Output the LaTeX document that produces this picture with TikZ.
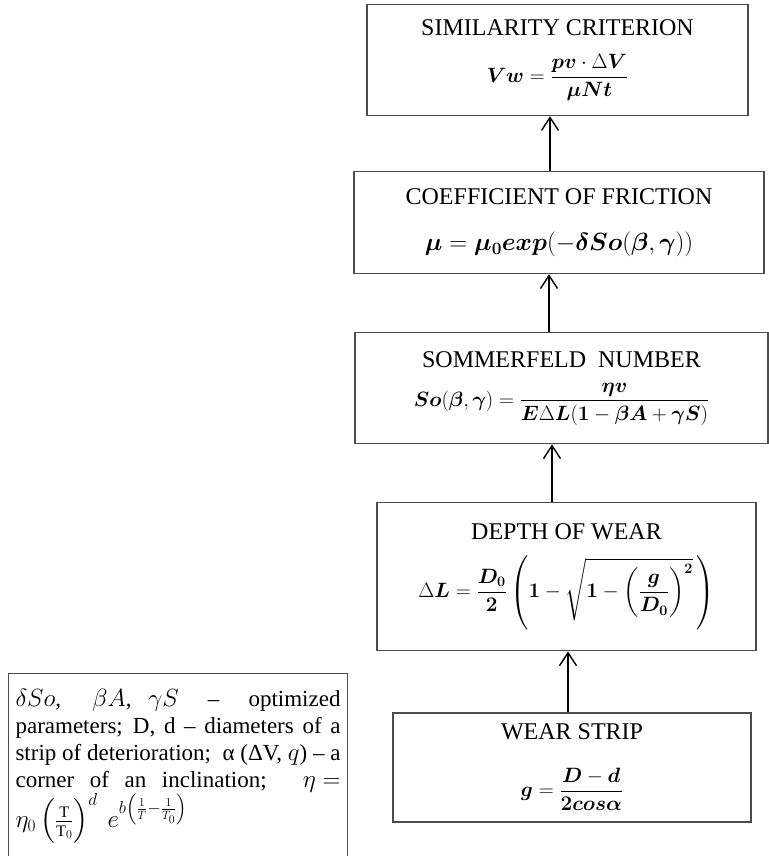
\documentclass[tikz,border=0pt]{standalone}
\usepackage{amsmath,bm}
\usepackage{fontspec}
\setmainfont{Liberation Serif}
\usepackage{tikz}
\usetikzlibrary{arrows.meta,positioning}
\newcommand{\stagetitle}[1]{{\fontsize{24}{28}\selectfont #1}}

\begin{document}
\begin{tikzpicture}[x=1pt, y=1pt, node distance=58pt, every node/.style={font=\fontsize{21}{24}\selectfont}]
\tikzstyle{stage}=[draw=black!70, line width=1.1pt, align=center, inner sep=2pt]
\tikzstyle{notebox}=[draw=black!70, line width=1.1pt, text width=325pt, align=justify, inner xsep=7pt, inner ysep=8pt, font=\fontsize{23}{27}\selectfont]
\tikzstyle{flowarrow}=[-{Straight Barb[length=13pt,width=17pt]}, line width=1.4pt]
\useasboundingbox (0,0) rectangle (768,856);
\node[stage, minimum width=358pt, minimum height=109pt] (wear) at (572,88.5)
  {\stagetitle{WEAR STRIP}\\[27pt]$\bm{g}=\dfrac{\bm{D}-\bm{d}}{\bm{2cos\alpha}}$};
\node[stage, minimum width=379pt, minimum height=148pt, above=61pt of wear, xshift=-5.5pt] (depth)
  {\stagetitle{DEPTH OF WEAR}\\[14pt]$\Delta\bm{L}=\dfrac{\bm{D_0}}{\bm{2}}\left(\bm{1}-\sqrt{\bm{1}-\left(\dfrac{\bm{g}}{\bm{D_0}}\right)^{\bm{2}}}\,\right)$};
\node[stage, minimum width=413pt, minimum height=111pt, above=of depth, xshift=-5pt] (sommer)
  {\stagetitle{SOMMERFELD\ \ NUMBER}\\[15pt]{\fontsize{22}{24}\selectfont$\bm{So}(\bm{\beta},\bm{\gamma})=\dfrac{\bm{\eta v}}{\bm{E}\Delta\bm{L}(\bm{1}-\bm{\beta A}+\bm{\gamma S})}$}};
\node[stage, minimum width=410pt, minimum height=102pt, above=of sommer, xshift=-2.5pt] (friction)
  {\stagetitle{COEFFICIENT OF FRICTION}\\[22pt]{\fontsize{24}{24}\selectfont$\bm{\mu}=\bm{\mu_0exp}(-\bm{\delta So}(\bm{\beta},\bm{\gamma}))$}};
\node[stage, minimum width=381pt, minimum height=111pt, above=55pt of friction, xshift=-1.5pt] (crit)
  {\stagetitle{SIMILARITY CRITERION}\\[17pt]$\bm{Vw}=\dfrac{\bm{pv}\cdot\Delta\bm{V}}{\bm{\mu Nt}}$};
\node[notebox, anchor=north west, minimum height=186pt] (note) at (8,183)
  {$\delta So$, \ $\beta A$, $\gamma S$ \ -- \ optimized\linebreak
   parameters; D, d -- diameters of a\linebreak
   strip of deterioration; \ α (ΔV, $q$) -- a\linebreak
   corner of an inclination; \ $\eta\mkern5mu{=}$\linebreak
   \rule{0pt}{31pt}$\eta_0\left(\frac{\mathrm{T}}{\mathrm{T}_0}\right)^{d}\ e^{b\left(\frac{1}{T}-\frac{1}{T_0}\right)}$\par};
\draw[flowarrow] ([xshift=-4pt]wear.north) -- ([xshift=-4pt]wear.north |- depth.south);
\draw[flowarrow] ([xshift=-14.5pt]depth.north) -- ([xshift=-14.5pt]depth.north |- sommer.south);
\draw[flowarrow] ([xshift=-12.5pt]sommer.north) -- ([xshift=-12.5pt]sommer.north |- friction.south);
\draw[flowarrow] ([xshift=-9pt]friction.north) -- ([xshift=-9pt]friction.north |- crit.south);
\end{tikzpicture}
\end{document}
